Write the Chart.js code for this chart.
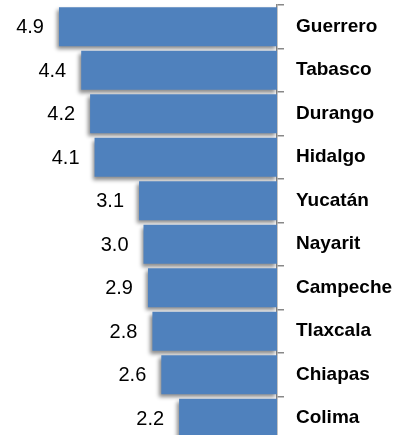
<!DOCTYPE html>
<html>
<head>
<meta charset="utf-8">
<script src="https://cdn.jsdelivr.net/npm/chart.js@4.4.0/dist/chart.umd.min.js"></script>
<style>
  html, body { margin: 0; padding: 0; background: #fff; overflow: hidden; }
  #wrap { width: 401px; height: 440px; }
</style>
</head>
<body>
<div id="wrap"><canvas id="myChart" width="401" height="440"></canvas></div>
<script>
const estados = ["Guerrero", "Tabasco", "Durango", "Hidalgo", "Yucatán", "Nayarit", "Campeche", "Tlaxcala", "Chiapas", "Colima"];
const valores = [4.9, 4.4, 4.2, 4.1, 3.1, 3.0, 2.9, 2.8, 2.6, 2.2];

// sombra de las barras
const sombra = {
    id: 'sombra',
    beforeDatasetsDraw(chart) {
        const ctx = chart.ctx;
        ctx.save();
        ctx.shadowColor = 'rgba(0,0,0,0.45)';
        ctx.shadowBlur = 4;
        ctx.shadowOffsetX = -2;
        ctx.shadowOffsetY = 3;
    },
    afterDatasetsDraw(chart) {
        chart.ctx.restore();
    }
};

// etiquetas de valor a la izquierda de cada barra
const etiquetas = {
    id: 'etiquetas',
    afterDraw(chart) {
        const ctx = chart.ctx;
        const meta = chart.getDatasetMeta(0);
        ctx.save();
        ctx.font = '20px "Liberation Sans", Arial, sans-serif';
        ctx.fillStyle = '#000';
        ctx.textAlign = 'right';
        ctx.textBaseline = 'middle';
        meta.data.forEach(function(bar, i) {
            ctx.fillText(valores[i].toFixed(1), bar.x - 15, bar.y + 1);
        });
        ctx.restore();
    }
};

const config = {
    type: 'bar',
    data: {
        labels: estados,
        datasets: [{
            data: valores,
            backgroundColor: '#4F81BD',
            borderWidth: 0,
            barPercentage: 1,
            categoryPercentage: 0.9
        }]
    },
    options: {
        indexAxis: 'y',
        responsive: false,
        devicePixelRatio: 1,
        animation: false,
        layout: { padding: { top: 5, bottom: 0, left: 10, right: 0 } },
        plugins: {
            legend: { display: false },
            tooltip: { enabled: false }
        },
        scales: {
            x: {
                display: false,
                reverse: true,
                min: 0,
                max: 6
            },
            y: {
                position: 'right',
                afterFit: function(scale) {
                    scale.width = 124;
                    scale.paddingTop = 0;
                    scale.paddingBottom = 0;
                },
                border: { color: '#888', width: 1.5 },
                grid: {
                    drawOnChartArea: false,
                    tickLength: 7,
                    color: '#888',
                    lineWidth: 1.5
                },
                ticks: {
                    padding: 12,
                    color: '#000',
                    font: { family: '"Liberation Sans", Arial, sans-serif', size: 19, weight: 'bold' }
                }
            }
        }
    },
    plugins: [sombra, etiquetas]
};

let myChart = new Chart(document.getElementById('myChart'), config);
</script>
</body>
</html>
